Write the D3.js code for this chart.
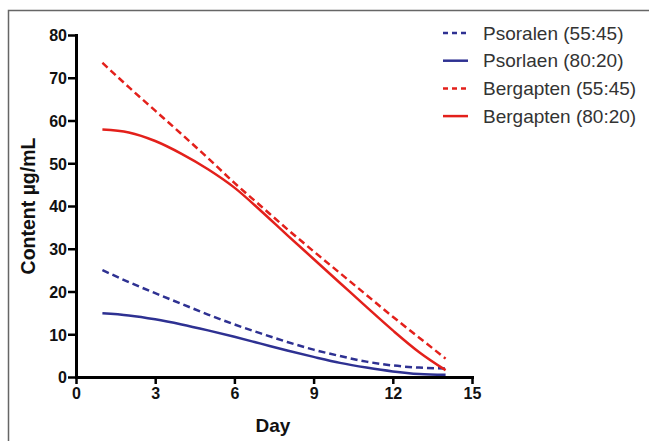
<!DOCTYPE html>
<html>
<head>
<meta charset="utf-8">
<script src="https://d3js.org/d3.v7.min.js"></script>
<style>
  body { margin: 0; background: #fff; }
  svg { display: block; font-family: Arial, "Liberation Sans", sans-serif; }
  .tick text { font-weight: bold; font-size: 16px; fill: #111; }
</style>
</head>
<body>
<div id="chart"></div>
<script>
// days sampled along the fitted curves
var days = [1, 2, 3, 4, 5, 6, 7, 8, 9, 10, 11, 12, 13, 14];

var psoralen5545  = [25.0, 22.2, 19.6, 17.1, 14.6, 12.3, 10.2, 8.2, 6.4, 4.9, 3.6, 2.7, 2.2, 2.0];
var psoralen8020  = [14.9, 14.4, 13.5, 12.3, 10.9, 9.4, 7.8, 6.2, 4.7, 3.3, 2.2, 1.3, 0.7, 0.5];
var bergapten5545 = [73.5, 67.8, 62.3, 56.8, 51.2, 45.4, 40.0, 34.6, 29.4, 24.3, 19.2, 14.1, 9.2, 4.3];
var bergapten8020 = [57.9, 57.2, 55.2, 52.2, 48.6, 44.3, 38.9, 33.2, 27.6, 22.0, 16.4, 10.9, 5.8, 1.6];

var xTicks = [0, 3, 6, 9, 12, 15];
var yTicks = [0, 10, 20, 30, 40, 50, 60, 70, 80];

var seriesNames = ["Psoralen (55:45)", "Psorlaen (80:20)", "Bergapten (55:45)", "Bergapten (80:20)"];
var seriesData = [psoralen5545, psoralen8020, bergapten5545, bergapten8020];
var seriesColor = ["#2e3192", "#2e3192", "#e3201b", "#e3201b"];
var seriesDashed = [true, false, true, false];

var W = 649, H = 441;
var margin = {top: 35, left: 76};
var width = 396, height = 342;

var svg = d3.select("#chart").append("svg")
    .attr("width", W)
    .attr("height", H);

// frame (left and top edge visible)
svg.append("rect")
    .attr("x", 8.5).attr("y", 10.5)
    .attr("width", W + 20).attr("height", H + 20)
    .attr("fill", "none")
    .attr("stroke", "#666")
    .attr("stroke-width", 1.5);

var g = svg.append("g")
    .attr("transform", "translate(" + margin.left + "," + margin.top + ")");

var x = d3.scaleLinear().domain([0, 15]).range([0, width]);
var y = d3.scaleLinear().domain([0, 80]).range([height, 0]);

var xAxis = g.append("g")
    .attr("transform", "translate(0," + height + ")")
    .call(d3.axisBottom(x).tickValues(xTicks).tickSize(7).tickSizeOuter(0).tickPadding(4));

var yAxis = g.append("g")
    .call(d3.axisLeft(y).tickValues(yTicks).tickSize(8).tickSizeOuter(0).tickPadding(1));

g.selectAll(".domain")
    .attr("stroke", "#000")
    .attr("stroke-width", 3)
    .attr("stroke-linecap", "square");
g.selectAll(".tick line")
    .attr("stroke", "#000")
    .attr("stroke-width", 2.5);
yAxis.selectAll(".tick text").attr("dy", "0.36em");

// curves
var line = d3.line()
    .x(function(d) { return x(d[0]); })
    .y(function(d) { return y(d[1]); })
    .curve(d3.curveMonotoneX);

seriesData.forEach(function(vals, i) {
    g.append("path")
        .datum(days.map(function(d, j) { return [d, vals[j]]; }))
        .attr("d", line)
        .attr("fill", "none")
        .attr("stroke", seriesColor[i])
        .attr("stroke-width", 2.5)
        .attr("stroke-dasharray", seriesDashed[i] ? "7,4" : null);
});

// axis titles
svg.append("text")
    .text("Day")
    .attr("x", 273)
    .attr("y", 432)
    .attr("text-anchor", "middle")
    .style("font-size", "19px")
    .style("font-weight", "bold")
    .style("fill", "#111");

svg.append("text")
    .text("Content µg/mL")
    .attr("transform", "translate(35,206) rotate(-90)")
    .attr("text-anchor", "middle")
    .style("font-size", "19.5px")
    .style("font-weight", "bold")
    .style("fill", "#111");

// legend
var legend = svg.append("g").attr("transform", "translate(443,33)");
seriesNames.forEach(function(name, i) {
    var row = legend.append("g").attr("transform", "translate(0," + (i * 27.7) + ")");
    row.append("line")
        .attr("x1", 0).attr("x2", 25)
        .attr("y1", 0).attr("y2", 0)
        .attr("stroke", seriesColor[i])
        .attr("stroke-width", 2.5)
        .attr("stroke-dasharray", seriesDashed[i] ? "5,4" : null);
    row.append("text")
        .text(name)
        .attr("x", 40)
        .attr("y", 6.5)
        .style("font-size", "19px")
        .style("fill", "#333");
});
</script>
</body>
</html>
